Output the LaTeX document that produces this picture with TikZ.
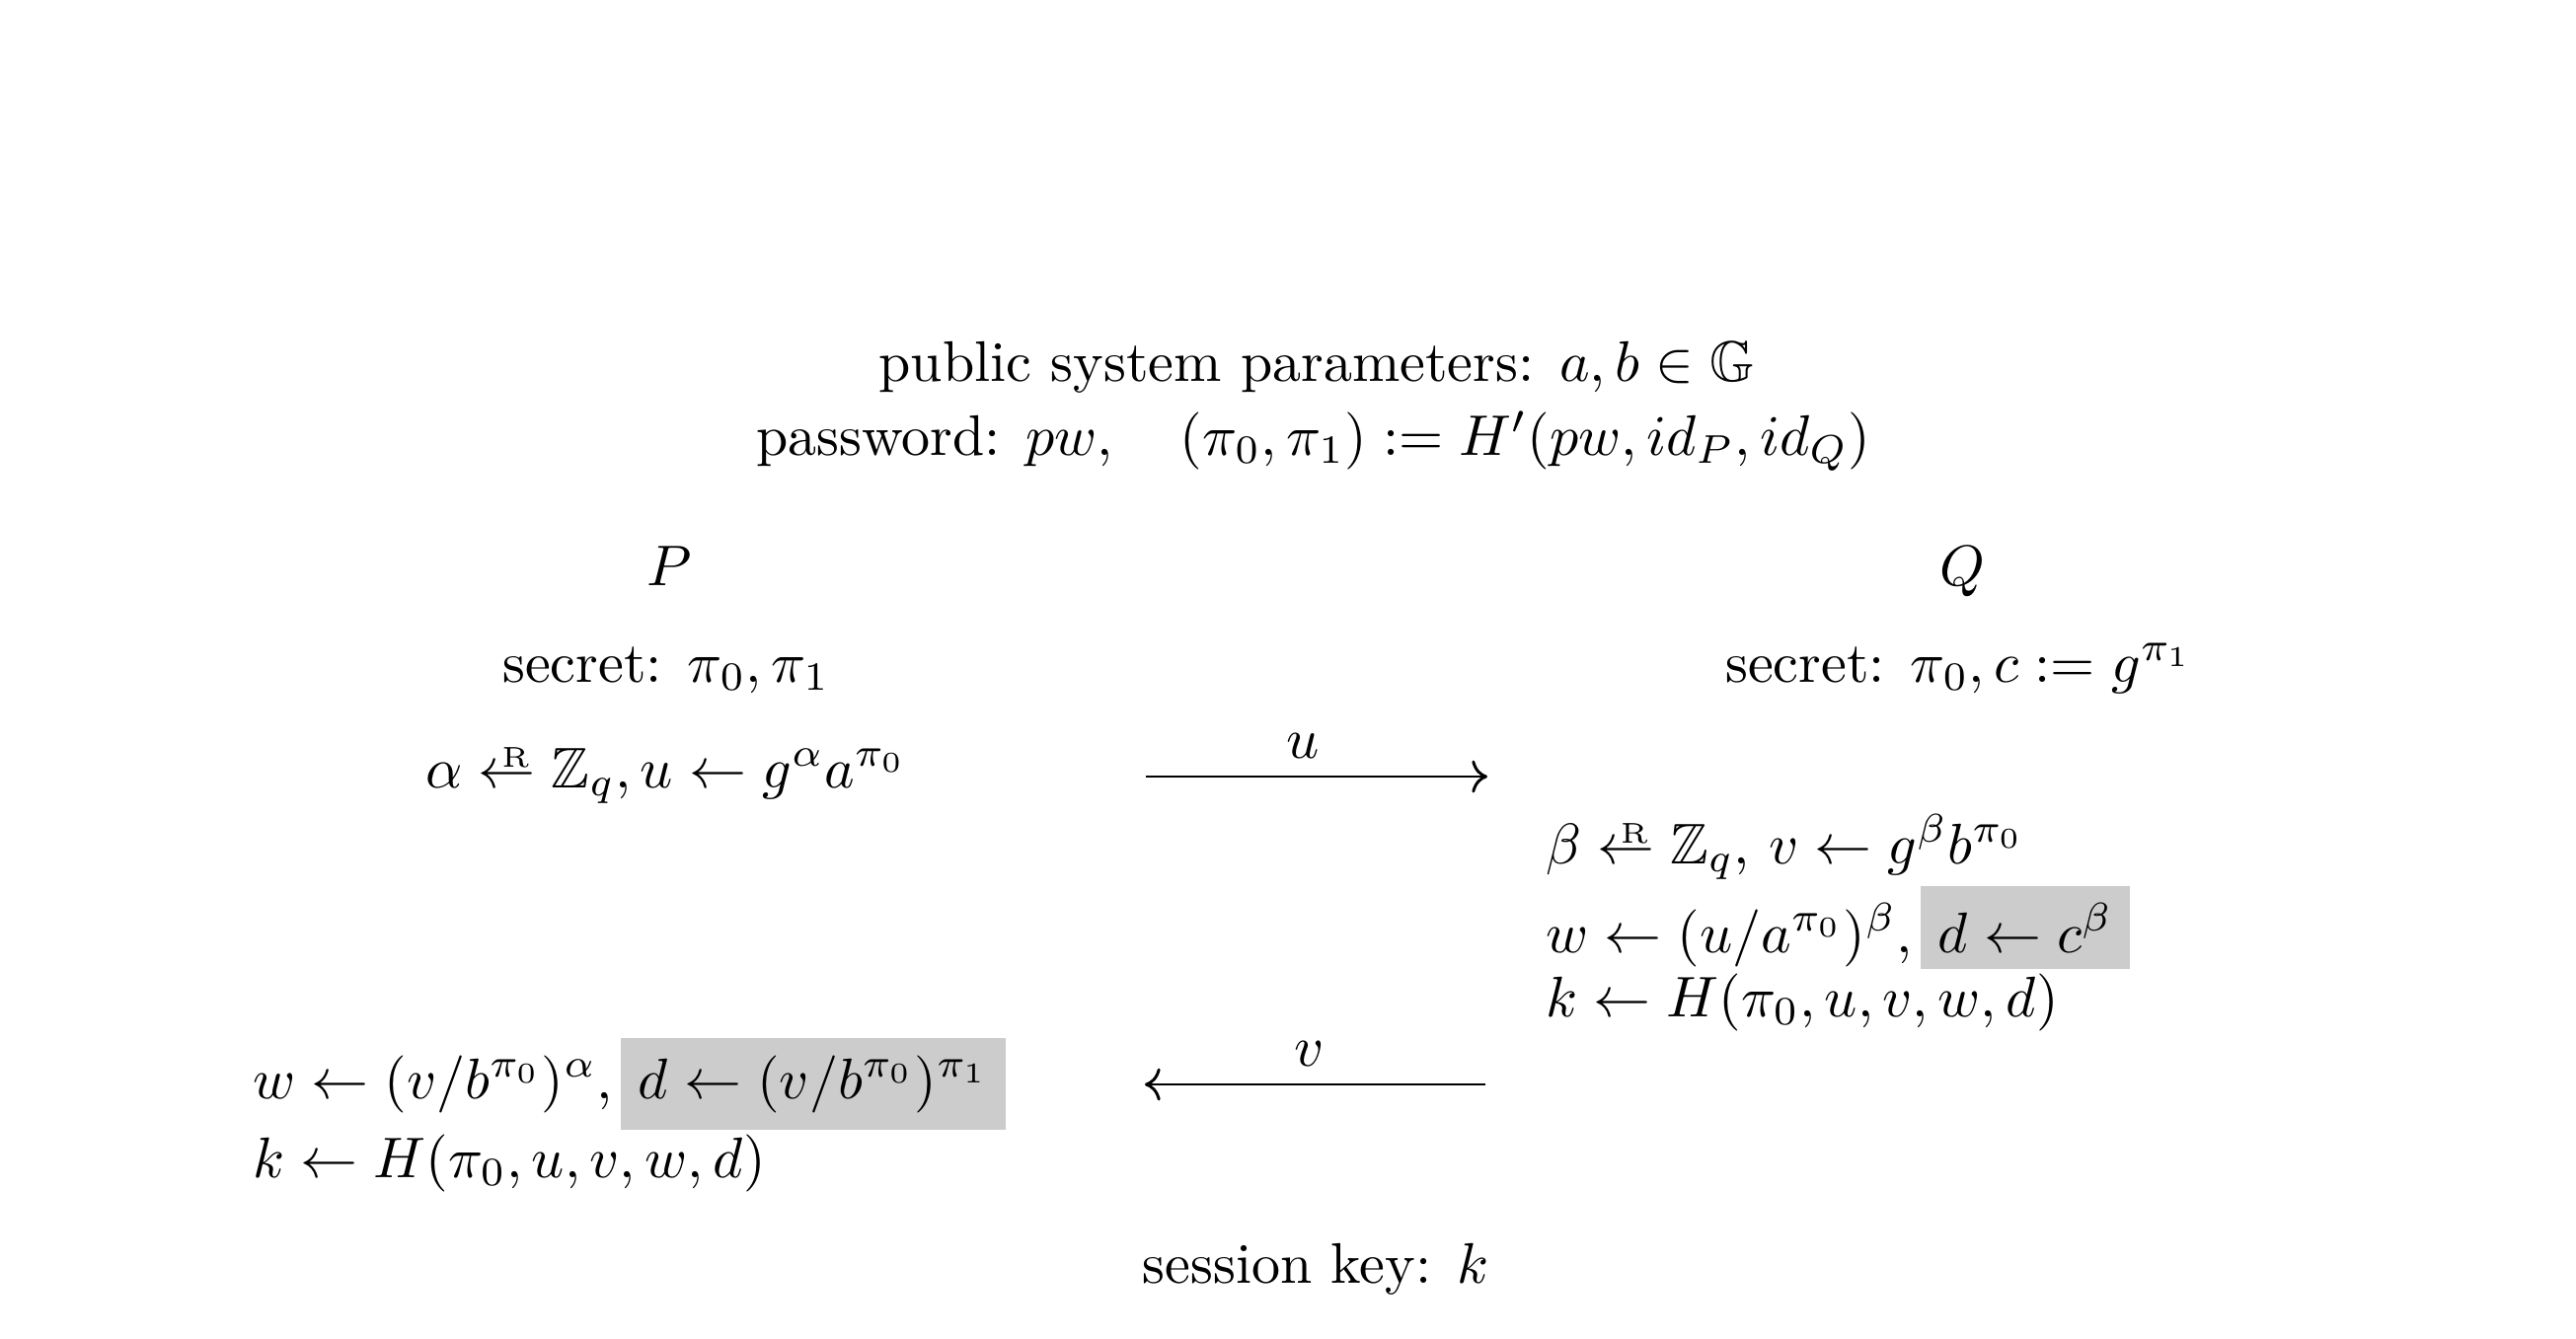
\documentclass[tikz,border=0pt]{standalone}
\usepackage{amsmath,amssymb}
\usetikzlibrary{arrows.meta}
\newcommand{\rgets}{\mathrel{\ooalign{$\leftarrow$\cr\hidewidth\kern3pt\raisebox{3.6pt}{$\scriptscriptstyle\mathrm{R}$}\hidewidth\cr}}}
\tikzset{
  txt/.style={inner sep=0pt, anchor=base},
  txtl/.style={inner sep=0pt, anchor=base west},
  msg/.style={line width=0.5pt, -{Computer Modern Rightarrow}}
}
\begin{document}
\begin{tikzpicture}[x=0.1723pt,y=-0.1723pt]
\useasboundingbox (0,0) rectangle (2610,1356);
\node[txt] (pub) at (1334,386) {public system parameters: $a, b \in \mathbb{G}$};
\node[txt] (pwd) at (1331,461) {password: $pw,\quad (\pi_0,\pi_1) := H'(pw, id_P, id_Q)$};
\node[txt] (P) at (678,593) {$P$};
\node[txt] (Q) at (1988,593) {$Q$};
\node[txt] (secP) at (675,691) {secret: $\pi_0,\pi_1$};
\node[txt] (secQ) at (1985,691) {secret: $\pi_0, c := g^{\pi_1}$};
\node[txt] (p1) at (675,798) {$\alpha \rgets \mathbb{Z}_q, u \leftarrow g^{\alpha}a^{\pi_0}$};
\coordinate (us) at (1161,787);
\coordinate (ue) at (1507,787);
\draw[msg] (us) -- (ue);
\node[txt] (ulab) at (1320,768) {$u$};
\node[txtl] (q1) at (1565,875) {$\beta \rgets \mathbb{Z}_q$, $v \leftarrow g^{\beta}b^{\pi_0}$};
\node[txtl] (q2) at (1565,965) {$w \leftarrow (u/a^{\pi_0})^{\beta}$,\hspace{1.5pt}\colorbox{black!20}{$d \leftarrow c^{\beta}$}};
\node[txtl] (q3) at (1565,1030) {$k \leftarrow H(\pi_0, u, v, w, d)$};
\coordinate (vs) at (1505,1099);
\coordinate (ve) at (1160,1099);
\draw[msg] (vs) -- (ve);
\node[txt] (vlab) at (1327,1080) {$v$};
\node[txtl] (p2) at (255,1113) {$w \leftarrow (v/b^{\pi_0})^{\alpha}$,\hspace{1.5pt}\colorbox{black!20}{$d \leftarrow (v/b^{\pi_0})^{\pi_1}$}};
\node[txtl] (p3) at (255,1193) {$k \leftarrow H(\pi_0, u, v, w, d)$};
\node[txt] (key) at (1333,1300) {session key: $k$};
\end{tikzpicture}
\end{document}
